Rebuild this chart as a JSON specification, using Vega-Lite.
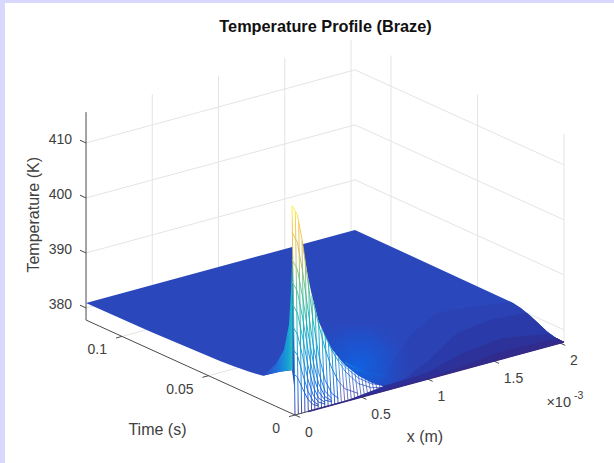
{"$schema":"https://vega.github.io/schema/vega-lite/v6.json","width":609,"height":460,"autosize":"none","padding":{"left":5,"top":3,"right":0,"bottom":0},"background":"#d8d8fc","config":{"view":{"fill":"white","stroke":null}},
"title":{"text":"Temperature Profile (Braze)","font":"Liberation Sans","fontSize":16.3,"fontWeight":"bold","color":"#111111","anchor":"middle","frame":"group","dx":16,"offset":-32},
"data":{"values":[
{"k":"g","x":0,"t":0.05,"T":377.8,"x2":2.03,"t2":0.05,"T2":377.8},{"k":"g","x":0,"t":0.1,"T":377.8,"x2":2.03,"t2":0.1,"T2":377.8},
{"k":"g","x":0.5,"t":0.1208,"T":377.8,"x2":0.5,"t2":0.1208,"T2":415.6},{"k":"g","x":1,"t":0.1208,"T":377.8,"x2":1,"t2":0.1208,"T2":415.6},{"k":"g","x":1.5,"t":0.1208,"T":377.8,"x2":1.5,"t2":0.1208,"T2":415.6},{"k":"g","x":2,"t":0.1208,"T":377.8,"x2":2,"t2":0.1208,"T2":415.6},
{"k":"g","x":2.03,"t":0.1,"T":377.8,"x2":2.03,"t2":0.1,"T2":415.6},{"k":"g","x":2.03,"t":0.05,"T":377.8,"x2":2.03,"t2":0.05,"T2":415.6},{"k":"g","x":2.03,"t":0,"T":377.8,"x2":2.03,"t2":0,"T2":415.6},
{"k":"g","x":0,"t":0.1208,"T":380,"x2":2.03,"t2":0.1208,"T2":380},{"k":"g","x":0,"t":0.1208,"T":390,"x2":2.03,"t2":0.1208,"T2":390},{"k":"g","x":0,"t":0.1208,"T":400,"x2":2.03,"t2":0.1208,"T2":400},{"k":"g","x":0,"t":0.1208,"T":410,"x2":2.03,"t2":0.1208,"T2":410},
{"k":"g","x":2.03,"t":0.1208,"T":380,"x2":2.03,"t2":0,"T2":380},{"k":"g","x":2.03,"t":0.1208,"T":390,"x2":2.03,"t2":0,"T2":390},{"k":"g","x":2.03,"t":0.1208,"T":400,"x2":2.03,"t2":0,"T2":400},{"k":"g","x":2.03,"t":0.1208,"T":410,"x2":2.03,"t2":0,"T2":410},
{"k":"a","x":0,"t":0.1208,"T":377.8,"x2":0,"t2":0.1208,"T2":415.6},{"k":"a","x":0,"t":0.1208,"T":377.8,"x2":0,"t2":0,"T2":377.8},{"k":"a","x":0,"t":0,"T":377.8,"x2":2.03,"t2":0,"T2":377.8},
{"k":"a","x":0,"t":0,"T":377.8,"x2":0,"t2":-0.003,"T2":377.8},{"k":"a","x":0.5,"t":0,"T":377.8,"x2":0.5,"t2":-0.003,"T2":377.8},{"k":"a","x":1,"t":0,"T":377.8,"x2":1,"t2":-0.003,"T2":377.8},{"k":"a","x":1.5,"t":0,"T":377.8,"x2":1.5,"t2":-0.003,"T2":377.8},{"k":"a","x":2,"t":0,"T":377.8,"x2":2,"t2":-0.003,"T2":377.8},
{"k":"a","x":0,"t":0,"T":377.8,"x2":-0.045,"t2":0,"T2":377.8},{"k":"a","x":0,"t":0.05,"T":377.8,"x2":-0.045,"t2":0.05,"T2":377.8},{"k":"a","x":0,"t":0.1,"T":377.8,"x2":-0.045,"t2":0.1,"T2":377.8},
{"k":"a","x":0,"t":0.1208,"T":380,"x2":0,"t2":0.1243,"T2":380},{"k":"a","x":0,"t":0.1208,"T":390,"x2":0,"t2":0.1243,"T2":390},{"k":"a","x":0,"t":0.1208,"T":400,"x2":0,"t2":0.1243,"T2":400},{"k":"a","x":0,"t":0.1208,"T":410,"x2":0,"t2":0.1243,"T2":410},

{"k":"p","g":"plane","x":0,"t":0.1208,"T":380.9},{"k":"p","g":"plane","x":2.03,"t":0.1208,"T":380.9},{"k":"p","g":"plane","x":2.03,"t":0.0295,"T":380.7},{"k":"p","g":"plane","x":2.03,"t":0.025,"T":380.4},{"k":"p","g":"plane","x":2.03,"t":0.0197,"T":379.8},{"k":"p","g":"plane","x":2.03,"t":0.015,"T":379.1},{"k":"p","g":"plane","x":2.03,"t":0.0098,"T":378.3},{"k":"p","g":"plane","x":2.03,"t":0.005,"T":377.9},{"k":"p","g":"plane","x":2.03,"t":0,"T":377.8},{"k":"p","g":"plane","x":0.02,"t":0,"T":377.8},{"k":"p","g":"plane","x":0,"t":0.0017,"T":385.7},{"k":"p","g":"plane","x":0,"t":0.0087,"T":384.4},{"k":"p","g":"plane","x":0,"t":0.0185,"T":382.3},{"k":"p","g":"plane","x":0,"t":0.026,"T":381.9},{"k":"p","g":"plane","x":0,"t":0.0358,"T":381.6},{"k":"p","g":"plane","x":0,"t":0.0434,"T":381.4},{"k":"p","g":"plane","x":0,"t":0.0838,"T":381},
{"k":"p","g":"bandA","x":0.566,"t":0,"T":377.8},{"k":"p","g":"bandA","x":0.82,"t":0.0079,"T":380.4},{"k":"p","g":"bandA","x":1.26,"t":0.0284,"T":380.4},{"k":"p","g":"bandA","x":1.582,"t":0.0391,"T":380.4},{"k":"p","g":"bandA","x":1.8,"t":0.0367,"T":380.4},{"k":"p","g":"bandA","x":2.03,"t":0.0306,"T":380.6},{"k":"p","g":"bandA","x":2.03,"t":0.025,"T":380.4},{"k":"p","g":"bandA","x":2.03,"t":0.0197,"T":379.8},{"k":"p","g":"bandA","x":2.03,"t":0.015,"T":379.1},{"k":"p","g":"bandA","x":2.03,"t":0.0098,"T":378.3},{"k":"p","g":"bandA","x":2.03,"t":0.005,"T":377.9},{"k":"p","g":"bandA","x":2.03,"t":0,"T":377.8},
{"k":"p","g":"bandB","x":0.72,"t":0,"T":377.8},{"k":"p","g":"bandB","x":1.083,"t":0.0066,"T":379.4},{"k":"p","g":"bandB","x":1.526,"t":0.0232,"T":379.4},{"k":"p","g":"bandB","x":1.817,"t":0.0265,"T":379.4},{"k":"p","g":"bandB","x":2.03,"t":0.0218,"T":380},{"k":"p","g":"bandB","x":2.03,"t":0.0197,"T":379.8},{"k":"p","g":"bandB","x":2.03,"t":0.015,"T":379.1},{"k":"p","g":"bandB","x":2.03,"t":0.0098,"T":378.3},{"k":"p","g":"bandB","x":2.03,"t":0.005,"T":377.9},{"k":"p","g":"bandB","x":2.03,"t":0,"T":377.8},
{"k":"p","g":"bandC","x":0.83,"t":0,"T":377.8},{"k":"p","g":"bandC","x":1.392,"t":0.0095,"T":378.6},{"k":"p","g":"bandC","x":1.737,"t":0.0128,"T":378.6},{"k":"p","g":"bandC","x":2.007,"t":0.0081,"T":378.2},{"k":"p","g":"bandC","x":2.03,"t":0.005,"T":377.9},{"k":"p","g":"bandC","x":2.03,"t":0,"T":377.8},
{"k":"p","g":"bandD","x":1,"t":0,"T":377.8},{"k":"p","g":"bandD","x":1.606,"t":0.0045,"T":378.1},{"k":"p","g":"bandD","x":2.03,"t":0.0037,"T":377.9},{"k":"p","g":"bandD","x":2.03,"t":0,"T":377.8},

{"k":"o","x":0.113,"t":0,"T":393.4},{"k":"o","x":0.981,"t":0,"T":387.7},{"k":"o","x":0.981,"t":0,"T":374.5},{"k":"o","x":0.113,"t":0,"T":380.1},
{"k":"m","x":0,"t":0,"T":377.8},{"k":"m","x":1.2,"t":0,"T":377.8},{"k":"m","x":1.2,"t":0,"T":368},{"k":"m","x":0,"t":0,"T":368},

{"k":"c","x":0,"t":0.0185,"T":382.3},{"k":"c","x":0,"t":0.011,"T":385.5},{"k":"c","x":0,"t":0.0064,"T":388.7},{"k":"c","x":0,"t":0.0035,"T":393.7},{"k":"c","x":0,"t":0.0023,"T":400.2},{"k":"c","x":0,"t":0.0014,"T":407.6},{"k":"c","x":0,"t":0.0014,"T":385.8},{"k":"c","x":0,"t":0.0087,"T":384.4},

{"k":"w","x":0,"t":0,"T":377.8},{"k":"w","x":0,"t":0.0017,"T":415.6},{"k":"w","x":0.025,"t":0.0017,"T":414.3},{"k":"w","x":0.05,"t":0.0017,"T":412.3},{"k":"w","x":0.075,"t":0.0017,"T":408.8},{"k":"w","x":0.1,"t":0.0017,"T":404.8},{"k":"w","x":0.125,"t":0.0017,"T":401.3},{"k":"w","x":0.15,"t":0.0017,"T":398.3},{"k":"w","x":0.175,"t":0.0017,"T":395.8},{"k":"w","x":0.2,"t":0.0017,"T":393.3},{"k":"w","x":0.25,"t":0.0017,"T":390.3},{"k":"w","x":0.3,"t":0.0017,"T":387.6},{"k":"w","x":0.35,"t":0.0017,"T":385.7},{"k":"w","x":0.4,"t":0.0017,"T":384},{"k":"w","x":0.5,"t":0.0017,"T":381.4},{"k":"w","x":0.6,"t":0.0017,"T":379.5},{"k":"w","x":0.68,"t":0.0017,"T":378.4},{"k":"w","x":0.7,"t":0,"T":377.8},

{"k":"A","x":0,"T":377.8},{"k":"A","x":0,"t":0.0017,"T":415.6},{"k":"A"},
{"k":"A","x":0.025,"T":377.8},{"k":"A","x":0.025,"t":0.0017,"T":414.3},{"k":"A"},
{"k":"A","x":0.05,"T":377.8},{"k":"A","x":0.05,"t":0.0017,"T":412.3},{"k":"A"},
{"k":"A","x":0.075,"T":377.8},{"k":"A","x":0.075,"t":0.0017,"T":408.8},{"k":"A"},
{"k":"A","x":0.1,"T":377.8},{"k":"A","x":0.1,"t":0.0017,"T":404.8},{"k":"A"},
{"k":"A","x":0.125,"T":377.8},{"k":"A","x":0.125,"t":0.0017,"T":401.3},{"k":"A"},
{"k":"A","x":0.15,"T":377.8},{"k":"A","x":0.15,"t":0.0017,"T":398.3},{"k":"A"},
{"k":"A","x":0.175,"T":377.8},{"k":"A","x":0.175,"t":0.0017,"T":395.8},{"k":"A"},
{"k":"A","x":0.2,"T":377.8},{"k":"A","x":0.2,"t":0.0017,"T":393.3},{"k":"A"},
{"k":"A","x":0.225,"T":377.8},{"k":"A","x":0.225,"t":0.0017,"T":391.8},{"k":"A"},
{"k":"A","x":0.25,"T":377.8},{"k":"A","x":0.25,"t":0.0017,"T":390.3},{"k":"A"},
{"k":"A","x":0.275,"T":377.8},{"k":"A","x":0.275,"t":0.0017,"T":388.8},{"k":"A"},
{"k":"A","x":0.3,"T":377.8},{"k":"A","x":0.3,"t":0.0017,"T":387.6},{"k":"A"},
{"k":"A","x":0.325,"T":377.8},{"k":"A","x":0.325,"t":0.0017,"T":386.6},{"k":"A"},
{"k":"A","x":0,"t":0.0017,"T":385.3},{"k":"A","x":0.04,"t":0.0017,"T":384.2},{"k":"A","x":0.08,"t":0.0017,"T":381.8},{"k":"A","x":0.12,"t":0.0017,"T":379.6},{"k":"A","x":0.16,"t":0.0017,"T":378.4},{"k":"A","x":0.2,"t":0.0017,"T":377.9},{"k":"A"},
{"k":"A","x":0,"t":0.0017,"T":389.8},{"k":"A","x":0.04,"t":0.0017,"T":388.2},{"k":"A","x":0.08,"t":0.0017,"T":384.5},{"k":"A","x":0.12,"t":0.0017,"T":381.1},{"k":"A","x":0.16,"t":0.0017,"T":379},{"k":"A","x":0.2,"t":0.0017,"T":378.1},{"k":"A"},
{"k":"A","x":0,"t":0.0017,"T":393.8},{"k":"A","x":0.04,"t":0.0017,"T":392},{"k":"A","x":0.08,"t":0.0017,"T":387.7},{"k":"A","x":0.12,"t":0.0017,"T":383.2},{"k":"A","x":0.16,"t":0.0017,"T":380.1},{"k":"A","x":0.2,"t":0.0017,"T":378.6},{"k":"A","x":0.25,"t":0.0017,"T":377.9},{"k":"A"},
{"k":"A","x":0,"t":0.0017,"T":397.8},{"k":"A","x":0.04,"t":0.0017,"T":395.9},{"k":"A","x":0.08,"t":0.0017,"T":391.1},{"k":"A","x":0.12,"t":0.0017,"T":385.8},{"k":"A","x":0.16,"t":0.0017,"T":381.7},{"k":"A","x":0.2,"t":0.0017,"T":379.3},{"k":"A","x":0.25,"t":0.0017,"T":378.2},{"k":"A"},
{"k":"A","x":0,"t":0.0017,"T":401.8},{"k":"A","x":0.04,"t":0.0017,"T":399.8},{"k":"A","x":0.08,"t":0.0017,"T":394.7},{"k":"A","x":0.12,"t":0.0017,"T":388.7},{"k":"A","x":0.16,"t":0.0017,"T":383.7},{"k":"A","x":0.2,"t":0.0017,"T":380.5},{"k":"A","x":0.25,"t":0.0017,"T":378.6},{"k":"A","x":0.3,"t":0.0017,"T":378},{"k":"A"},
{"k":"A","x":0,"t":0.0017,"T":405.8},{"k":"A","x":0.04,"t":0.0017,"T":403.8},{"k":"A","x":0.08,"t":0.0017,"T":398.5},{"k":"A","x":0.12,"t":0.0017,"T":391.9},{"k":"A","x":0.16,"t":0.0017,"T":386.1},{"k":"A","x":0.2,"t":0.0017,"T":382},{"k":"A","x":0.25,"t":0.0017,"T":379.2},{"k":"A","x":0.3,"t":0.0017,"T":378.2},{"k":"A"},
{"k":"A","x":0,"t":0.0017,"T":410.8},{"k":"A","x":0.04,"t":0.0017,"T":408.7},{"k":"A","x":0.08,"t":0.0017,"T":403.1},{"k":"A","x":0.12,"t":0.0017,"T":395.9},{"k":"A","x":0.16,"t":0.0017,"T":389.2},{"k":"A","x":0.2,"t":0.0017,"T":384},{"k":"A","x":0.25,"t":0.0017,"T":380.2},{"k":"A","x":0.3,"t":0.0017,"T":378.6},{"k":"A"},
{"k":"A","x":0,"t":0.0017,"T":415.6},{"k":"A","x":0.04,"t":0.0017,"T":413.7},{"k":"A","x":0.08,"t":0.0017,"T":408.3},{"k":"A","x":0.12,"t":0.0017,"T":400.9},{"k":"A","x":0.16,"t":0.0017,"T":393.5},{"k":"A","x":0.2,"t":0.0017,"T":387.3},{"k":"A","x":0.25,"t":0.0017,"T":382.2},{"k":"A","x":0.3,"t":0.0017,"T":379.5},{"k":"A","x":0.35,"t":0.0017,"T":378.3},{"k":"A"},
{"k":"A","x":0.16,"t":0.0017,"T":397},{"k":"A","x":0.2,"t":0.0017,"T":392.8},{"k":"A","x":0.25,"t":0.0017,"T":387.9},{"k":"A","x":0.3,"t":0.0017,"T":384.1},{"k":"A","x":0.35,"t":0.0017,"T":381.4},{"k":"A"},
{"k":"A","x":0.24,"t":0.0017,"T":390.8},{"k":"A","x":0.3,"t":0.0017,"T":387.4},{"k":"A","x":0.35,"t":0.0017,"T":385},{"k":"A"},

{"k":"B","x":0.35,"T":377.8},{"k":"B","x":0.35,"t":0.0017,"T":385.7},{"k":"B"},{"k":"B","x":0.375,"T":377.8},{"k":"B","x":0.375,"t":0.0017,"T":384.8},{"k":"B"},{"k":"B","x":0.4,"T":377.8},{"k":"B","x":0.4,"t":0.0017,"T":384},{"k":"B"},{"k":"B","x":0.425,"T":377.8},{"k":"B","x":0.425,"t":0.0017,"T":383.3},{"k":"B"},{"k":"B","x":0.45,"T":377.8},{"k":"B","x":0.45,"t":0.0017,"T":382.7},{"k":"B"},{"k":"B","x":0.475,"T":377.8},{"k":"B","x":0.475,"t":0.0017,"T":382.1},{"k":"B"},{"k":"B","x":0.5,"T":377.8},{"k":"B","x":0.5,"t":0.0017,"T":381.6},{"k":"B"},{"k":"B","x":0.525,"T":377.8},{"k":"B","x":0.525,"t":0.0017,"T":381.1},{"k":"B"},{"k":"B","x":0.55,"T":377.8},{"k":"B","x":0.55,"t":0.0017,"T":380.7},{"k":"B"},{"k":"B","x":0.575,"T":377.8},{"k":"B","x":0.575,"t":0.0017,"T":380.4},{"k":"B"},{"k":"B","x":0.6,"T":377.8},{"k":"B","x":0.6,"t":0.0017,"T":380.1},{"k":"B"},{"k":"B","x":0.625,"T":377.8},{"k":"B","x":0.625,"t":0.0017,"T":379.8},{"k":"B"},{"k":"B","x":0.65,"T":377.8},{"k":"B","x":0.65,"t":0.0017,"T":379.6},{"k":"B"},{"k":"B","x":0.675,"T":377.8},{"k":"B","x":0.675,"t":0.0017,"T":379.3},{"k":"B"},{"k":"B","x":0.7,"T":377.8},{"k":"B","x":0.7,"t":0.0017,"T":379.1},{"k":"B"},
{"k":"B","x":0.35,"t":0.0017,"T":381.4},{"k":"B","x":0.4,"t":0.0017,"T":379.7},{"k":"B","x":0.5,"t":0.0017,"T":378.2},{"k":"B"},
{"k":"B","x":0.35,"t":0.0017,"T":385},{"k":"B","x":0.4,"t":0.0017,"T":382.9},{"k":"B","x":0.5,"t":0.0017,"T":380},{"k":"B","x":0.6,"t":0.0017,"T":378.6},{"k":"B","x":0.7,"t":0.0017,"T":378},{"k":"B"},
{"k":"B","x":0.35,"t":0.0017,"T":385.5},{"k":"B","x":0.4,"t":0.0017,"T":383.7},{"k":"B","x":0.5,"t":0.0017,"T":381},{"k":"B","x":0.6,"t":0.0017,"T":379.3},{"k":"B","x":0.7,"t":0.0017,"T":378.4},{"k":"B"},
{"k":"B","x":0.4,"t":0.0017,"T":384.6},{"k":"B","x":0.5,"t":0.0017,"T":382.2},{"k":"B","x":0.6,"t":0.0017,"T":380.3},{"k":"B","x":0.7,"t":0.0017,"T":379.1},{"k":"B"},
{"k":"B","x":0.4,"t":0.0017,"T":384.4},{"k":"B","x":0.5,"t":0.0017,"T":382.6},{"k":"B","x":0.6,"t":0.0017,"T":381},{"k":"B","x":0.7,"t":0.0017,"T":379.8},{"k":"B"},
{"k":"B","x":0.45,"t":0.0017,"T":382.9},{"k":"B","x":0.5,"t":0.0017,"T":382.3},{"k":"B","x":0.6,"t":0.0017,"T":381.1},{"k":"B","x":0.7,"t":0.0017,"T":380.1},{"k":"B"},
{"k":"B","x":0.55,"t":0.0017,"T":381.3},{"k":"B","x":0.6,"t":0.0017,"T":381},{"k":"B","x":0.7,"t":0.0017,"T":380.3},{"k":"B"},

{"k":"q","x":0.35,"t":0,"T":377.8},{"k":"q","x":0.7,"t":0.001,"T":378.5},{"k":"q","x":1.1,"t":0.002,"T":378.5},{"k":"q","x":1.1,"t":0,"T":377.8},
{"k":"f","x":0.1,"T":377.8},{"k":"f","x":2.03,"T":377.8},

{"k":"lx","x":0,"t":0,"T":377.8,"s":"0"},{"k":"lx","x":0.5,"t":0,"T":377.8,"s":"0.5"},{"k":"lx","x":1,"t":0,"T":377.8,"s":"1"},{"k":"lx","x":1.5,"t":0,"T":377.8,"s":"1.5"},{"k":"lx","x":2,"t":0,"T":377.8,"s":"2"},
{"k":"lt","x":0,"t":0,"T":377.8,"s":"0"},{"k":"lt","x":0,"t":0.05,"T":377.8,"s":"0.05"},{"k":"lt","x":0,"t":0.1,"T":377.8,"s":"0.1"},
{"k":"lz","x":0,"t":0.1208,"T":380,"s":"380"},{"k":"lz","x":0,"t":0.1208,"T":390,"s":"390"},{"k":"lz","x":0,"t":0.1208,"T":400,"s":"400"},{"k":"lz","x":0,"t":0.1208,"T":410,"s":"410"},
{"k":"n","x":-1.038,"t":0,"T":381.9,"s":"Time (s)"},{"k":"n","x":0.981,"t":0,"T":367.4,"s":"x (m)"},
{"k":"r","x":-1.97,"t":0,"T":427.1,"s":"Temperature (K)"},
{"k":"e","x":2.083,"t":0,"T":366.3,"s":"×10"},{"k":"h","x":2.106,"t":0,"T":367.5,"s":"-3"}
]},
"transform":[
{"calculate":"datum.T==null?null:295+132.5*datum.x-1730*(datum.t||0)","as":"sx"},
{"calculate":"datum.T==null?null:415-36*datum.x-786*(datum.t||0)-5.5*(datum.T-377.8)","as":"sy"},
{"calculate":"datum.T2==null?null:295+132.5*datum.x2-1730*(datum.t2||0)","as":"sx2"},
{"calculate":"datum.T2==null?null:415-36*datum.x2-786*(datum.t2||0)-5.5*(datum.T2-377.8)","as":"sy2"}
],
"encoding":{
"x":{"field":"sx","type":"quantitative","axis":null,"scale":{"domain":[5,614],"nice":false,"zero":false}},
"y":{"field":"sy","type":"quantitative","axis":null,"scale":{"domain":[3,463],"reverse":true,"nice":false,"zero":false}}
},
"layer":[
{"transform":[{"filter":"datum.k=='g'"}],"mark":{"type":"rule","stroke":"#e4e4e4","strokeWidth":1},"encoding":{"x2":{"field":"sx2"},"y2":{"field":"sy2"}}},
{"transform":[{"filter":"datum.k=='p'"}],"mark":{"type":"line","strokeWidth":0},"encoding":{"order":{"value":null},"detail":{"field":"g"},"fill":{"field":"g","type":"nominal","legend":null,"sort":null,"scale":{"domain":["plane","bandA","bandB","bandC","bandD"],"range":["#2b47bc","#2a42b4","#2a3aa8","#2c3299","#302b8c"]}}}},
{"transform":[{"filter":"datum.k=='o'"}],"mark":{"type":"line","strokeWidth":0,"fill":{"gradient":"radial","x1":0.42,"y1":0.55,"r1":0,"x2":0.42,"y2":0.55,"r2":0.5,"stops":[{"offset":0,"color":"rgba(14,100,228,0.9)"},{"offset":0.55,"color":"rgba(25,85,210,0.6)"},{"offset":1,"color":"rgba(43,71,188,0)"}]}},"encoding":{"order":{"value":null}}},
{"transform":[{"filter":"datum.k=='m'"}],"mark":{"type":"line","strokeWidth":0,"fill":"white"},"encoding":{"order":{"value":null}}},
{"transform":[{"filter":"datum.k=='c'"}],"mark":{"type":"line","strokeWidth":0,"fill":{"gradient":"linear","x1":0,"y1":0,"x2":1,"y2":0,"stops":[{"offset":0,"color":"#2b47bc"},{"offset":0.5,"color":"#1e72dc"},{"offset":0.85,"color":"#16a2d4"},{"offset":1,"color":"#2fbfc0"}]}},"encoding":{"order":{"value":null}}},
{"transform":[{"filter":"datum.k=='w'"}],"mark":{"type":"line","strokeWidth":0,"fill":"white"},"encoding":{"order":{"value":null}}},
{"transform":[{"filter":"datum.k=='a'"}],"mark":{"type":"rule","stroke":"#4a4a4a","strokeWidth":1},"encoding":{"x2":{"field":"sx2"},"y2":{"field":"sy2"}}},
{"transform":[{"filter":"datum.k=='B'"}],"mark":{"type":"line","invalid":"break-paths-show-path-domains","strokeWidth":0.7,"stroke":{"gradient":"linear","x1":0,"y1":1,"x2":0,"y2":0,"stops":[{"offset":0,"color":"#352a87"},{"offset":0.3,"color":"#2a3fb8"},{"offset":0.65,"color":"#1560d8"},{"offset":1,"color":"#14a0d8"}]}},"encoding":{"order":{"value":null}}},
{"transform":[{"filter":"datum.k=='A'"}],"mark":{"type":"line","invalid":"break-paths-show-path-domains","strokeWidth":0.9,"stroke":{"gradient":"linear","x1":0,"y1":1,"x2":0,"y2":0,"stops":[{"offset":0,"color":"#352a87"},{"offset":0.1,"color":"#0f5cdd"},{"offset":0.2,"color":"#127dd8"},{"offset":0.33,"color":"#079ccf"},{"offset":0.45,"color":"#15b1b4"},{"offset":0.62,"color":"#59bd8c"},{"offset":0.78,"color":"#d3bb55"},{"offset":0.9,"color":"#f8c23a"},{"offset":1,"color":"#f9f53a"}]}},"encoding":{"order":{"value":null}}},
{"transform":[{"filter":"datum.k=='q'"}],"mark":{"type":"line","strokeWidth":0,"fill":"#2e2f96"},"encoding":{"order":{"value":null}}},
{"transform":[{"filter":"datum.k=='f'"}],"mark":{"type":"line","stroke":"#352a87","strokeWidth":1.6},"encoding":{"order":{"value":null}}},
{"transform":[{"filter":"datum.k=='lx'"}],"mark":{"type":"text","font":"Liberation Sans","fontSize":14,"fill":"#404040","align":"left","baseline":"middle","dx":10,"dy":18},"encoding":{"text":{"field":"s"}}},
{"transform":[{"filter":"datum.k=='lt'"}],"mark":{"type":"text","font":"Liberation Sans","fontSize":14,"fill":"#404040","align":"right","baseline":"middle","dx":-15,"dy":14},"encoding":{"text":{"field":"s"}}},
{"transform":[{"filter":"datum.k=='lz'"}],"mark":{"type":"text","font":"Liberation Sans","fontSize":14,"fill":"#404040","align":"right","baseline":"middle","dx":-14,"dy":-3},"encoding":{"text":{"field":"s"}}},
{"transform":[{"filter":"datum.k=='n'"}],"mark":{"type":"text","font":"Liberation Sans","fontSize":16,"fill":"#404040","align":"center","baseline":"middle"},"encoding":{"text":{"field":"s"}}},
{"transform":[{"filter":"datum.k=='r'"}],"mark":{"type":"text","font":"Liberation Sans","fontSize":16,"fill":"#404040","align":"center","baseline":"middle","angle":270},"encoding":{"text":{"field":"s"}}},
{"transform":[{"filter":"datum.k=='e'"}],"mark":{"type":"text","font":"Liberation Sans","fontSize":14.5,"fill":"#404040","align":"right","baseline":"middle"},"encoding":{"text":{"field":"s"}}},
{"transform":[{"filter":"datum.k=='h'"}],"mark":{"type":"text","font":"Liberation Sans","fontSize":10.5,"fill":"#404040","align":"left","baseline":"middle"},"encoding":{"text":{"field":"s"}}}
]}
